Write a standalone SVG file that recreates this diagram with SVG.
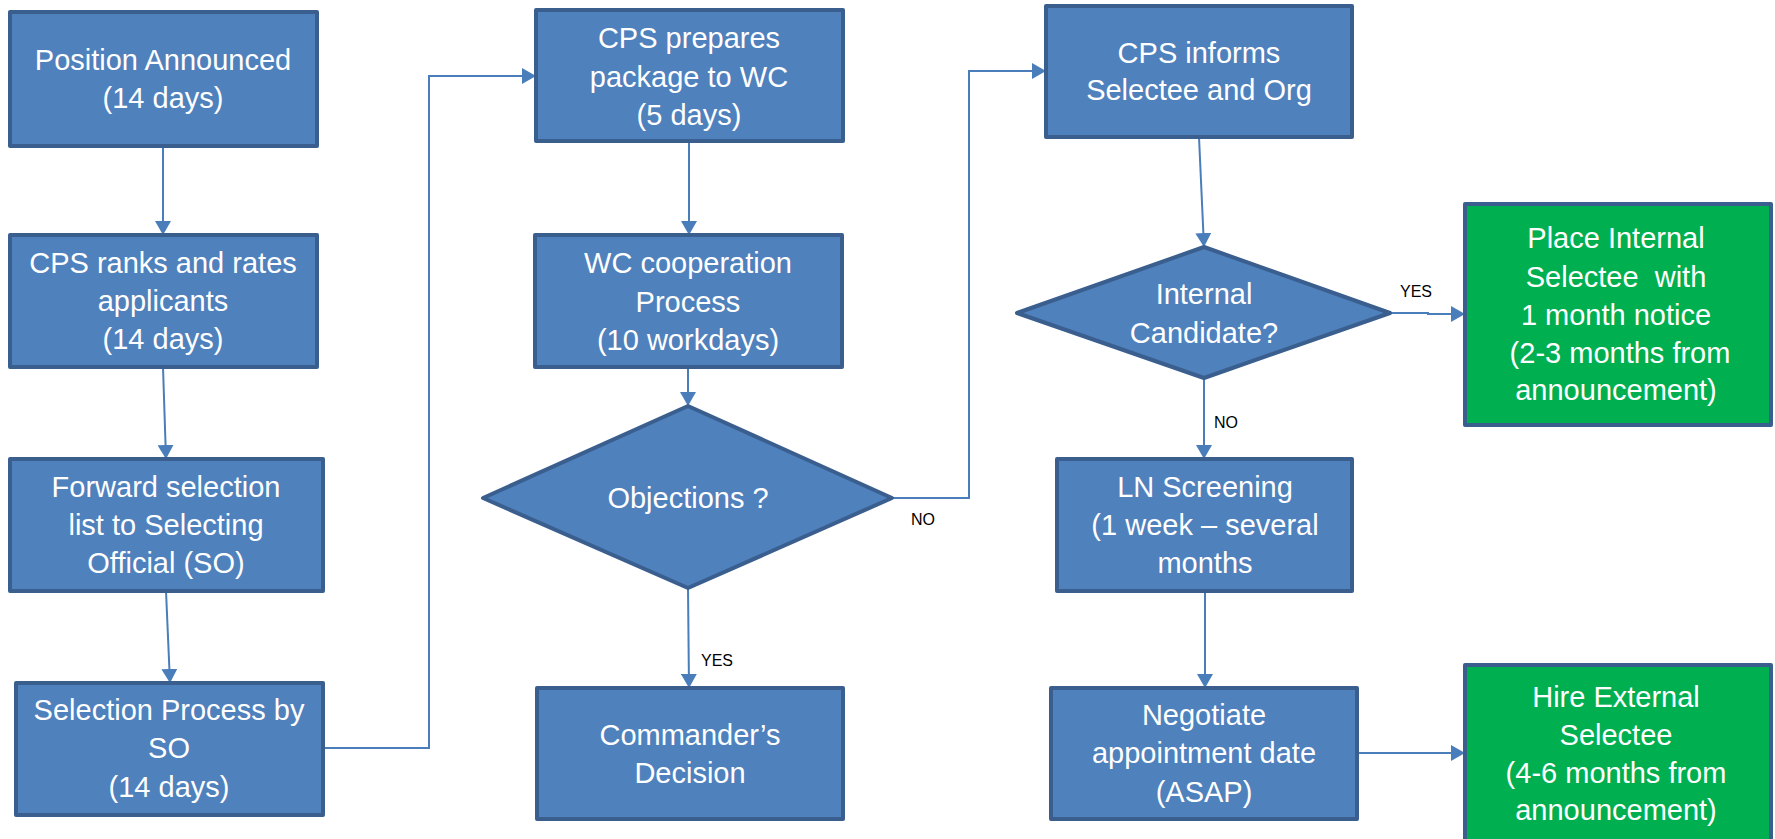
<svg xmlns="http://www.w3.org/2000/svg" width="1775" height="839" viewBox="0 0 1775 839">
<style>
.box{fill:#4F81BD;stroke:#3A5F8F;stroke-width:4;stroke-linejoin:round}
.green{fill:#00B050;stroke:#3A5F8F;stroke-width:4;stroke-linejoin:round}
.t{font-family:"Liberation Sans",Arial,sans-serif;font-size:29px;fill:#FFFFFF;text-anchor:middle;white-space:pre}
.lbl{font-family:"Liberation Sans",Arial,sans-serif;font-size:16px;fill:#000000}
.c{fill:none;stroke:#4A7EBB;stroke-width:2;marker-end:url(#ah)}
</style>
<defs>
<marker id="ah" markerUnits="userSpaceOnUse" markerWidth="14" markerHeight="16" refX="14" refY="8" orient="auto">
<path d="M0,0 L14,8 L0,16 z" fill="#4A7EBB"/>
</marker>
</defs>
<rect width="1775" height="839" fill="#FFFFFF"/>
<g id="connectors">
<path class="c" d="M163,146 L163,235"/>
<path class="c" d="M163,367 L166,459"/>
<path class="c" d="M166,591 L170,683"/>
<path class="c" d="M323,748 L429,748 L429,76 L536,76"/>
<path class="c" d="M689,141 L689,235"/>
<path class="c" d="M688,367 L688,406"/>
<path class="c" d="M688,588 L689,688"/>
<path class="c" d="M892,498 L969,498 L969,71 L1046,71"/>
<path class="c" d="M1199,137 L1204,247"/>
<path class="c" d="M1390,313 L1428,313 L1428,314 L1465,314"/>
<path class="c" d="M1204,378 L1204,459"/>
<path class="c" d="M1205,591 L1205,688"/>
<path class="c" d="M1357,753 L1465,753"/>
<text class="lbl" x="911" y="525">NO</text>
<text class="lbl" x="701" y="666">YES</text>
<text class="lbl" x="1400" y="297">YES</text>
<text class="lbl" x="1214" y="428">NO</text>
</g>
<g id="n1"><rect class="box" x="10" y="12" width="307" height="134"/>
<text class="t" x="163" y="70">Position Announced</text><text class="t" x="163" y="108">(14 days)</text></g>
<g id="n2"><rect class="box" x="10" y="235" width="307" height="132"/>
<text class="t" x="163" y="273">CPS ranks and rates</text><text class="t" x="163" y="311">applicants</text><text class="t" x="163" y="349">(14 days)</text></g>
<g id="n3"><rect class="box" x="10" y="459" width="313" height="132"/>
<text class="t" x="166" y="497">Forward selection</text><text class="t" x="166" y="535">list to Selecting</text><text class="t" x="166" y="573">Official (SO)</text></g>
<g id="n4"><rect class="box" x="16" y="683" width="307" height="132"/>
<text class="t" x="169" y="720">Selection Process by</text><text class="t" x="169" y="758">SO</text><text class="t" x="169" y="797">(14 days)</text></g>
<g id="n5"><rect class="box" x="536" y="10" width="307" height="131"/>
<text class="t" x="689" y="48">CPS prepares</text><text class="t" x="689" y="87">package to WC</text><text class="t" x="689" y="125">(5 days)</text></g>
<g id="n6"><rect class="box" x="535" y="235" width="307" height="132"/>
<text class="t" x="688" y="273">WC cooperation</text><text class="t" x="688" y="312">Process</text><text class="t" x="688" y="350">(10 workdays)</text></g>
<g id="d1"><polygon class="box" points="688,406 892,498 688,588 483,498"/>
<text class="t" x="688" y="508">Objections ?</text></g>
<g id="n7"><rect class="box" x="537" y="688" width="306" height="131"/>
<text class="t" x="690" y="745">Commander’s</text><text class="t" x="690" y="783">Decision</text></g>
<g id="n8"><rect class="box" x="1046" y="6" width="306" height="131"/>
<text class="t" x="1199" y="63">CPS informs</text><text class="t" x="1199" y="100">Selectee and Org</text></g>
<g id="d2"><polygon class="box" points="1204,247 1390,313 1204,378 1017,313"/>
<text class="t" x="1204" y="304">Internal</text><text class="t" x="1204" y="343">Candidate?</text></g>
<g id="g1"><rect class="green" x="1465" y="204" width="306" height="221"/>
<text class="t" x="1616" y="248">Place Internal</text><text class="t" x="1616" y="287">Selectee  with</text><text class="t" x="1616" y="325">1 month notice</text><text class="t" x="1620" y="363">(2-3 months from</text><text class="t" x="1616" y="400">announcement)</text></g>
<g id="n9"><rect class="box" x="1057" y="459" width="295" height="132"/>
<text class="t" x="1205" y="497">LN Screening</text><text class="t" x="1205" y="535">(1 week – several</text><text class="t" x="1205" y="573">months</text></g>
<g id="n10"><rect class="box" x="1051" y="688" width="306" height="131"/>
<text class="t" x="1204" y="725">Negotiate</text><text class="t" x="1204" y="763">appointment date</text><text class="t" x="1204" y="802">(ASAP)</text></g>
<g id="g2"><rect class="green" x="1465" y="665" width="306" height="190"/>
<text class="t" x="1616" y="707">Hire External</text><text class="t" x="1616" y="745">Selectee</text><text class="t" x="1616" y="783">(4-6 months from</text><text class="t" x="1616" y="820">announcement)</text></g>
</svg>
